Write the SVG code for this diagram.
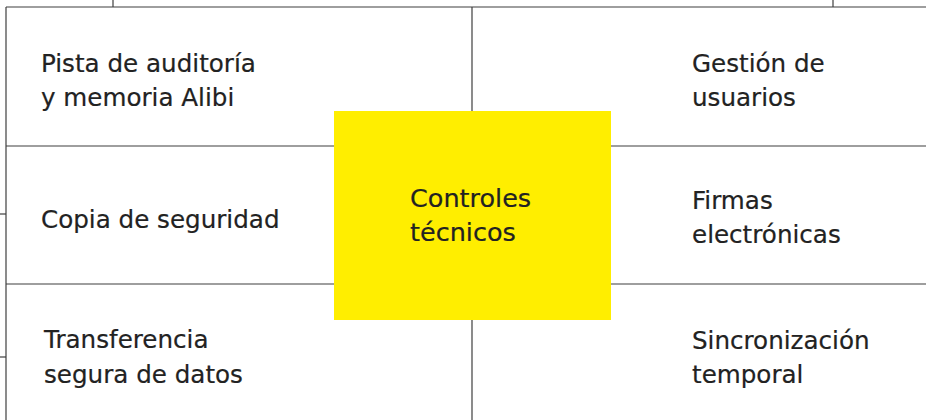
<svg xmlns="http://www.w3.org/2000/svg" width="926" height="420" viewBox="0 0 926 420">
<style>
.ln{stroke:#3f3f3f;stroke-width:1.2;fill:none}
.t{font-family:"DejaVu Sans","Liberation Sans",sans-serif;font-size:24.6px;fill:#222;stroke:#222;stroke-width:0.2}
.c{font-family:"DejaVu Sans","Liberation Sans",sans-serif;font-size:25.5px;fill:#222;stroke:#222;stroke-width:0.2}
</style>
<rect width="926" height="420" fill="#fff"/>
<g id="connectors">
<line class="ln" x1="6" y1="7" x2="926" y2="7"/>
<line class="ln" x1="6" y1="7" x2="6" y2="420"/>
<line class="ln" x1="472" y1="7" x2="472" y2="420"/>
<line class="ln" x1="6" y1="146" x2="926" y2="146"/>
<line class="ln" x1="6" y1="284" x2="926" y2="284"/>
<line class="ln" x1="113" y1="0" x2="113" y2="7"/>
<line class="ln" x1="833" y1="0" x2="833" y2="7"/>
<line class="ln" x1="0" y1="214" x2="6" y2="214"/>
<line class="ln" x1="0" y1="357" x2="6" y2="357"/>
</g>
<g id="n-pista"><text class="t" x="41" y="72">Pista de auditoría</text><text class="t" x="41" y="106">y memoria Alibi</text></g>
<g id="n-copia"><text class="t" x="41" y="228">Copia de seguridad</text></g>
<g id="n-transferencia"><text class="t" x="44" y="348">Transferencia</text><text class="t" x="44" y="383">segura de datos</text></g>
<g id="n-gestion"><text class="t" x="692" y="72">Gestión de</text><text class="t" x="692" y="106">usuarios</text></g>
<g id="n-firmas"><text class="t" x="692" y="209">Firmas</text><text class="t" x="692" y="243">electrónicas</text></g>
<g id="n-sincronizacion"><text class="t" x="692" y="349">Sincronización</text><text class="t" x="692" y="383">temporal</text></g>
<g id="n-controles"><rect x="334" y="111" width="277" height="209" fill="#FFEE00"/><text class="c" x="410" y="207">Controles</text><text class="c" x="410" y="241">técnicos</text></g>
</svg>
